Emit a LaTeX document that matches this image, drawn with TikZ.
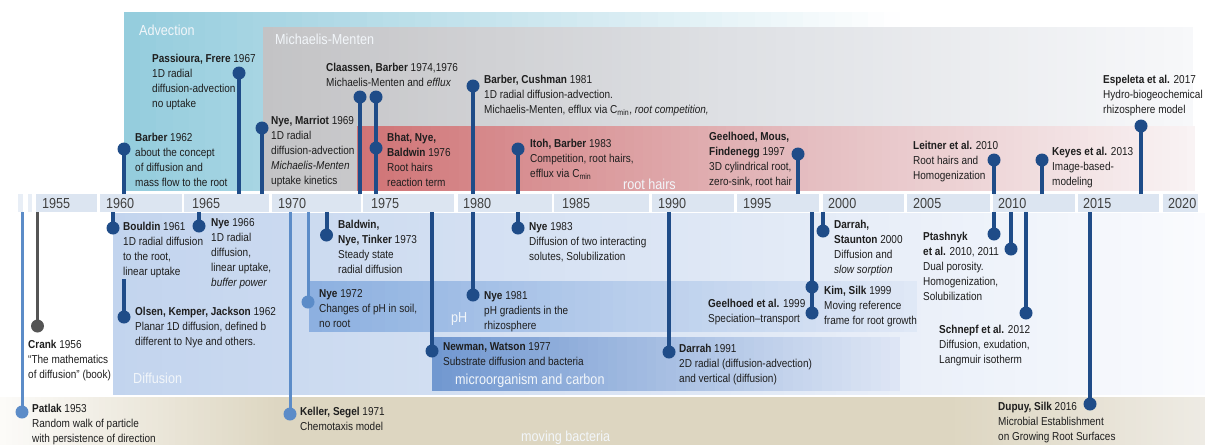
\documentclass[tikz,border=0pt]{standalone}
\usepackage{fontspec}
\setmainfont{Liberation Sans}[FakeStretch=0.87]
\definecolor{pinD}{RGB}{31,76,136}
\definecolor{pinL}{RGB}{92,140,200}
\definecolor{pinG}{RGB}{85,85,85}
\definecolor{txtC}{RGB}{30,30,30}
\definecolor{advC}{RGB}{148,204,221}
\definecolor{advR}{RGB}{255,255,255}
\definecolor{mmC}{RGB}{195,195,197}
\definecolor{mmM}{RGB}{222,224,228}
\definecolor{mmR}{RGB}{247,248,250}
\definecolor{rhC}{RGB}{208,115,117}
\definecolor{rhM}{RGB}{228,188,191}
\definecolor{rhR}{RGB}{249,243,244}
\definecolor{difC}{RGB}{194,212,238}
\definecolor{difM}{RGB}{222,231,245}
\definecolor{difR}{RGB}{250,251,254}
\definecolor{phC}{RGB}{140,176,224}
\definecolor{phR}{RGB}{224,232,246}
\definecolor{moC}{RGB}{112,151,208}
\definecolor{moR}{RGB}{222,230,245}
\definecolor{mbL}{RGB}{252,251,249}
\definecolor{mbM}{RGB}{221,214,193}
\definecolor{mbR}{RGB}{238,235,228}
\definecolor{tlC}{RGB}{220,229,241}
\definecolor{tlS}{RGB}{232,238,246}
\definecolor{labC}{RGB}{242,246,250}
\newcommand\evfont{\fontsize{11.5}{15}\selectfont}
\newcommand\catfont{\fontsize{14.5}{17}\selectfont}
\newcommand\pin[5]{\coordinate (#1-t) at (#2,#3); \node[dot,#5] (#1) at (#2,#4) {}; \draw[#5] (#1-t) -- (#1.center);}
\newcommand\ev[4]{\node[evt] (#1) at (#2,#3-9) {\rule{0pt}{9pt}#4};}
% horizontal colour band drawn as thin strips: x0,x1,y0,y1,colA,colB
\newcommand\hband[6]{%
  \pgfmathsetmacro\hbW{(#2-#1)/48}%
  \foreach \hbI in {0,...,47}{%
    \pgfmathsetmacro\hbP{100-(\hbI+0.5)*100/48}%
    \pgfmathsetmacro\hbA{#1+\hbI*\hbW}%
    \pgfmathsetmacro\hbB{min(#1+(\hbI+1)*\hbW+0.6,#2)}%
    \fill[#5!\hbP!#6] (\hbA,#3) rectangle (\hbB,#4);
  }}
\begin{document}
\begin{tikzpicture}[x=1pt,y=-1pt,
  evt/.style={font=\evfont, text=txtC, align=left, anchor=north west, inner sep=0pt},
  cat/.style={font=\catfont, text=labC, anchor=base west, inner sep=0pt},
  yr/.style={font=\catfont, text=txtC!85, anchor=base west, inner sep=0pt},
  dot/.style={circle, fill, minimum size=13pt, inner sep=0pt},
  pd/.style={color=pinD, line width=4pt},
  pl/.style={color=pinL, line width=3pt},
  pg/.style={color=pinG, line width=3pt}]
\useasboundingbox (0,0) rectangle (1205,445);
% bands above
\hband{124}{900}{12}{191}{advC}{advR}
\hband{263}{728}{27}{191}{mmC}{mmM}
\hband{727.5}{1193}{27}{191}{mmM}{mmR}
\hband{357}{800}{126}{191}{rhC}{rhM}
\hband{799.5}{1195}{126}{191}{rhM}{rhR}
% bands below
\hband{113}{700}{213}{395}{difC}{difM}
\hband{699.5}{1205}{213}{395}{difM}{difR}
\hband{309}{917}{281}{332}{phC}{phR}
\hband{432}{900}{337}{391}{moC}{moR}
\hband{0}{280}{396.5}{445}{mbL}{mbM}
\fill[mbM] (279.5,396.5) rectangle (950.5,445);
\hband{950}{1205}{396.5}{445}{mbM}{mbR}
% category labels
\node[cat] (l-adv) at (139,35) {Advection};
\node[cat] (l-mm) at (275,44) {Michaelis-Menten};
\node[cat] (l-rh) at (623,189) {root hairs};
\node[cat] (l-dif) at (133,383) {Diffusion};
\node[cat] (l-ph) at (451,322) {pH};
\node[cat] (l-mo) at (455,384) {microorganism and carbon};
\node[cat] (l-mb) at (521,441) {moving bacteria};
% timeline
\fill[tlS] (18,194) rectangle (23,212);
\fill[tlS] (28,194) rectangle (32,212);
\fill[tlC] (36,194) rectangle (97,212);
\fill[tlC] (100,194) rectangle (182,212);
\fill[tlC] (184,194) rectangle (269,212);
\fill[tlC] (272,194) rectangle (361,212);
\fill[tlC] (363,194) rectangle (454,212);
\fill[tlC] (458,194) rectangle (552,212);
\fill[tlC] (554,194) rectangle (649,212);
\fill[tlC] (652,194) rectangle (734,212);
\fill[tlC] (737,194) rectangle (819,212);
\fill[tlC] (823,194) rectangle (904,212);
\fill[tlC] (907,194) rectangle (990,212);
\fill[tlC] (993,194) rectangle (1075,212);
\fill[tlC] (1078,194) rectangle (1159,212);
\fill[tlC] (1163,194) rectangle (1198,212);
\node[yr] (y1955) at (42,208.5) {1955};
\node[yr] (y1960) at (106,208.5) {1960};
\node[yr] (y1965) at (192,208.5) {1965};
\node[yr] (y1970) at (278,208.5) {1970};
\node[yr] (y1975) at (371,208.5) {1975};
\node[yr] (y1980) at (463,208.5) {1980};
\node[yr] (y1985) at (562,208.5) {1985};
\node[yr] (y1990) at (658,208.5) {1990};
\node[yr] (y1995) at (743,208.5) {1995};
\node[yr] (y2000) at (828,208.5) {2000};
\node[yr] (y2005) at (913,208.5) {2005};
\node[yr] (y2010) at (998,208.5) {2010};
\node[yr] (y2015) at (1083,208.5) {2015};
\node[yr] (y2020) at (1168,208.5) {2020};
% pins above
\pin{p-barber62}{124}{194}{149}{pd}
\pin{p-passioura}{239}{194}{73}{pd}
\pin{p-nyemarriot}{262}{194}{128}{pd}
\pin{p-claassenA}{360}{194}{97}{pd}
\pin{p-claassenB}{376}{194}{97}{pd}
\pin{p-bhat}{376}{194}{148}{pd}
\pin{p-barbercush}{473}{194}{86}{pd}
\pin{p-itoh}{518}{194}{149}{pd}
\pin{p-geelmous}{798}{194}{154}{pd}
\pin{p-leitner}{994}{194}{160}{pd}
\pin{p-keyes}{1042}{194}{160}{pd}
\pin{p-espeleta}{1141}{194}{126}{pd}
% pins below
\pin{p-patlak}{22}{212}{412}{pl}
\pin{p-crank}{37.5}{212}{326}{pg}
\pin{p-bouldin}{113}{212}{228}{pd}
\pin{p-nye66}{199}{212}{226}{pd}
\pin{p-olsen}{124}{279}{317}{pd}
\pin{p-keller}{290}{212}{414}{pl}
\pin{p-nye72}{308}{212}{302}{pl}
\pin{p-baldwin}{326.5}{212}{235}{pd}
\pin{p-newman}{432}{212}{351}{pd}
\pin{p-nye81}{473}{212}{295}{pd}
\pin{p-nye83}{518}{212}{228}{pd}
\pin{p-darrah91}{669}{212}{352}{pd}
\pin{p-geel99}{812}{212}{313}{pd}
\pin{p-kim}{812}{212}{287}{pd}
\pin{p-darrahst}{823}{212}{231}{pd}
\pin{p-ptashA}{994}{212}{234}{pd}
\pin{p-ptashB}{1011}{212}{249}{pd}
\pin{p-schnepf}{1026}{212}{313}{pd}
\pin{p-dupuy}{1090}{212}{404}{pd}
% texts above
\ev{t-barber62}{135}{141}{\textbf{Barber} 1962\\about the concept\\of diffusion and\\mass flow to the root}
\ev{t-passioura}{152}{62}{\textbf{Passioura, Frere} 1967\\1D radial\\diffusion-advection\\no uptake}
\ev{t-nyemarriot}{271}{124}{\textbf{Nye, Marriot} 1969\\1D radial\\diffusion-advection\\\textit{Michaelis-Menten}\\uptake kinetics}
\ev{t-claassen}{326}{71}{\textbf{Claassen, Barber} 1974,1976\\Michaelis-Menten and \textit{efflux}}
\ev{t-bhat}{387}{141}{\textbf{Bhat, Nye,}\\\textbf{Baldwin} 1976\\Root hairs\\reaction term}
\ev{t-barbercush}{484}{83}{\textbf{Barber, Cushman} 1981\\1D radial diffusion-advection.\\Michaelis-Menten, efflux via C\textsubscript{min}, \textit{root competition,}}
\ev{t-itoh}{530}{147}{\textbf{Itoh, Barber} 1983\\Competition, root hairs,\\efflux via C\textsubscript{min}}
\ev{t-geelmous}{709}{140}{\textbf{Geelhoed, Mous,}\\\textbf{Findenegg} 1997\\3D cylindrical root,\\zero-sink, root hair}
\ev{t-leitner}{913}{149}{\textbf{Leitner et al.} 2010\\Root hairs and\\Homogenization}
\ev{t-keyes}{1052}{155}{\textbf{Keyes et al.} 2013\\Image-based-\\modeling}
\ev{t-espeleta}{1103}{83}{\textbf{Espeleta et al.} 2017\\Hydro-biogeochemical\\rhizosphere model}
% texts below
\ev{t-patlak}{32}{412}{\textbf{Patlak} 1953\\Random walk of particle\\with persistence of direction}
\ev{t-crank}{28}{348}{\textbf{Crank} 1956\\“The mathematics\\of diffusion” (book)}
\ev{t-bouldin}{123}{230}{\textbf{Bouldin} 1961\\1D radial diffusion\\to the root,\\linear uptake}
\ev{t-nye66}{211}{226}{\textbf{Nye} 1966\\1D radial\\diffusion,\\linear uptake,\\\textit{buffer power}}
\ev{t-olsen}{135}{315}{\textbf{Olsen, Kemper, Jackson} 1962\\Planar 1D diffusion, defined b\\different to Nye and others.}
\ev{t-nye72}{319}{297}{\textbf{Nye} 1972\\Changes of pH in soil,\\no root}
\ev{t-baldwin}{338}{228}{\textbf{Baldwin,}\\\textbf{Nye, Tinker} 1973\\Steady state\\radial diffusion}
\ev{t-keller}{300}{415}{\textbf{Keller, Segel} 1971\\Chemotaxis model}
\ev{t-newman}{443}{350}{\textbf{Newman, Watson} 1977\\Substrate diffusion and bacteria}
\ev{t-nye81}{484}{299}{\textbf{Nye} 1981\\pH gradients in the\\rhizosphere}
\ev{t-nye83}{529}{230}{\textbf{Nye} 1983\\Diffusion of two interacting\\solutes, Solubilization}
\ev{t-darrah91}{679}{352}{\textbf{Darrah} 1991\\2D radial (diffusion-advection)\\and vertical (diffusion)}
\ev{t-geel99}{708}{307}{\textbf{Geelhoed et al.} 1999\\Speciation–transport}
\ev{t-kim}{824}{294}{\textbf{Kim, Silk} 1999\\Moving reference\\frame for root growth}
\ev{t-darrahst}{834}{228}{\textbf{Darrah,}\\\textbf{Staunton} 2000\\Diffusion and\\\textit{slow sorption}}
\ev{t-ptash}{923}{240}{\textbf{Ptashnyk}\\\textbf{et al.} 2010, 2011\\Dual porosity.\\Homogenization,\\Solubilization}
\ev{t-schnepf}{939}{333}{\textbf{Schnepf et al.} 2012\\Diffusion, exudation,\\Langmuir isotherm}
\ev{t-dupuy}{998}{410}{\textbf{Dupuy, Silk} 2016\\Microbial Establishment\\on Growing Root Surfaces}
\end{tikzpicture}
\end{document}
